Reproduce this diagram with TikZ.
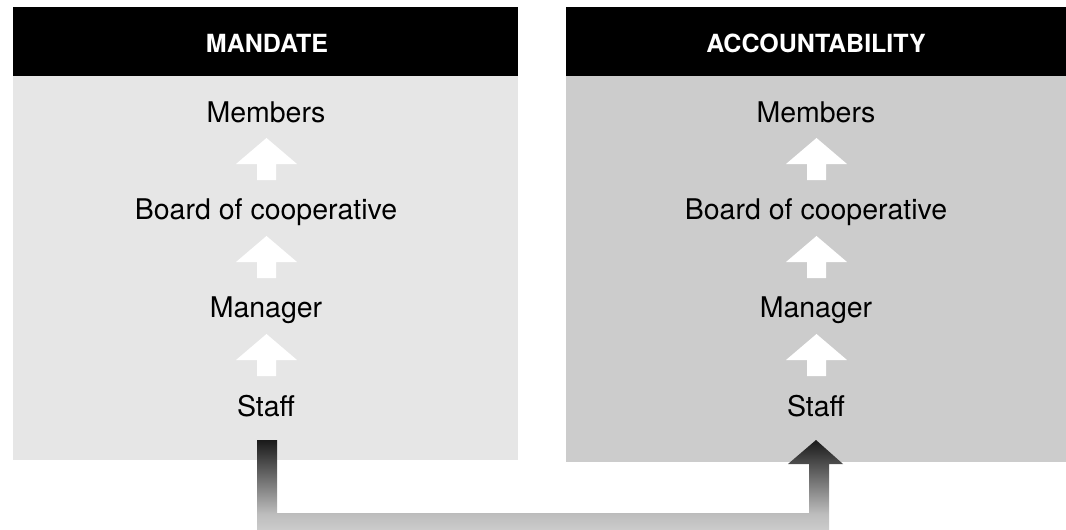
\documentclass[tikz,border=0pt]{standalone}
\usepackage{fontspec}
\setmainfont{TeX Gyre Heros}
\pgfdeclareverticalshading{connshade}{100bp}{color(0bp)=(black!20); color(25bp)=(black!20); color(34bp)=(black!26); color(75bp)=(black!90); color(100bp)=(black!90)}
\definecolor{lpanel}{HTML}{E6E6E6}
\definecolor{dpanel}{HTML}{CCCCCC}
\tikzset{
  hdrtext/.style={text=white, font=\fontsize{25}{29}\selectfont\bfseries, inner sep=0pt},
  bodytext/.style={text=black, font=\fontsize{28.5}{32}\selectfont, inner sep=0pt, anchor=base},
  uparrow/.pic={\fill[white] (0,0) -- (30.5,26) -- (9.5,26) -- (9.5,42) -- (-9.5,42) -- (-9.5,26) -- (-30.5,26) -- cycle;}
}
\begin{document}
\begin{tikzpicture}[x=1pt,y=-1pt]
\useasboundingbox (0,0) rectangle (1066,530);
% panels
\fill[black] (13,7) rectangle (518,76);
\fill[lpanel] (13,76) rectangle (518,460);
\fill[black] (566,7) rectangle (1066,76);
\fill[dpanel] (566,76) rectangle (1066,462);
% headers
\node[hdrtext] (hm) at (267,43.5) {MANDATE};
\node[hdrtext] (ha) at (816,43.5) {ACCOUNTABILITY};
% left column
\node[bodytext] (lmem) at (266,122) {Members};
\node[bodytext] (lbrd) at (266,219) {Board of cooperative};
\node[bodytext] (lman) at (266,317) {Manager};
\node[bodytext] (lsta) at (266,416) {Staff};
% right column
\node[bodytext] (rmem) at (816,122) {Members};
\node[bodytext] (rbrd) at (816,219) {Board of cooperative};
\node[bodytext] (rman) at (816,317) {Manager};
\node[bodytext] (rsta) at (816,416) {Staff};
% white arrows
\foreach \x in {266.5,816.5}{
  \foreach \y in {138,236,334}{
    \pic at (\x,\y) {uparrow};
  }
}
% connector
\shade[shading=connshade] (257,440) -- (277,440) -- (277,513) -- (809,513) -- (809,464) -- (788,464) -- (816,440) -- (843,464) -- (829,464) -- (829,530) -- (257,530) -- cycle;
\end{tikzpicture}
\end{document}
